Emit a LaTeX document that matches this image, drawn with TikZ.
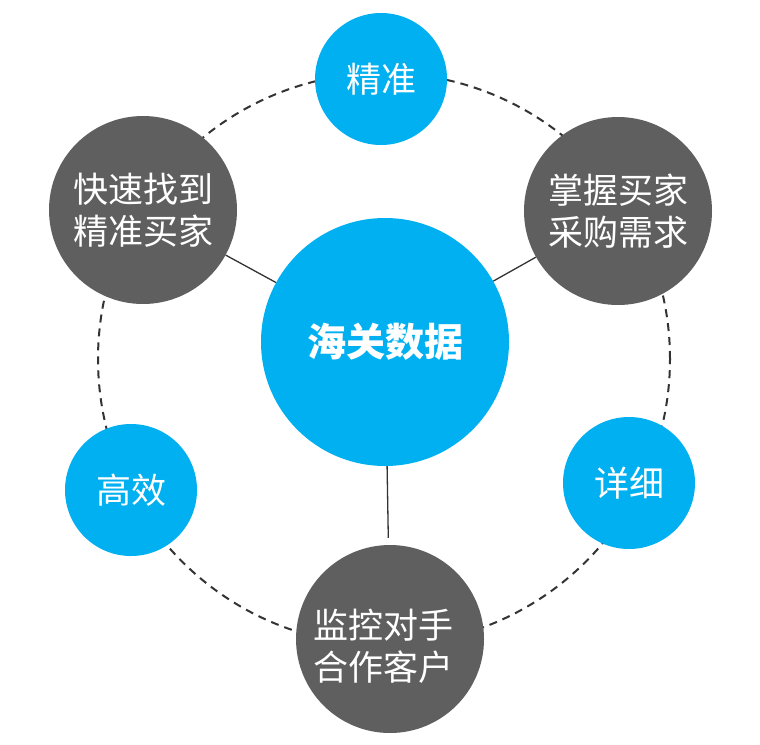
\documentclass[tikz,border=0pt]{standalone}
\usepackage{fontspec}
\newfontfamily\cjk{Noto Sans CJK SC}
\definecolor{cblue}{HTML}{00B0F0}
\definecolor{cdark}{HTML}{5F5F5F}
\definecolor{cline}{HTML}{333333}
\begin{document}
\begin{tikzpicture}[x=1pt,y=-1pt,
  bluecirc/.style={circle,fill=cblue,draw=none,inner sep=0pt,minimum size=132pt,
    text=white,font=\cjk\fontsize{35}{42}\selectfont,align=center},
  darkcirc/.style={circle,fill=cdark,draw=none,inner sep=0pt,minimum size=188pt,
    text=white,font=\cjk\fontsize{35}{42}\selectfont,align=center},
  maincirc/.style={circle,fill=cblue,draw=none,inner sep=0pt,minimum size=248pt,
    text=white,font=\cjk\bfseries\fontsize{39}{46}\selectfont},
  ringline/.style={draw=cline,line width=2pt,dash pattern=on 8pt off 6pt},
  linkline/.style={draw=cline,line width=1.3pt}]
\useasboundingbox (0,0) rectangle (760,744);
\fill[white] (0,0) rectangle (760,744);
\coordinate (ringc) at (384,359);
\draw[ringline] (ringc) circle[radius=286pt];
\node[maincirc] (main) at (385,342) {海关数据};
\node[bluecirc] (top) at (381,79) {精准};
\node[darkcirc] (tl) at (143,210) {快速找到\\精准买家};
\node[darkcirc] (tr) at (618,211) {掌握买家\\采购需求};
\node[bluecirc] (right) at (629,483) {详细};
\node[bluecirc] (left) at (131,490) {高效};
\node[darkcirc] (bot) at (390,639) {};
\node[text=white,font=\cjk\fontsize{35}{42}\selectfont,align=center,inner sep=0pt] (bottext) at (383,646) {监控对手\\合作客户};
\draw[linkline] (tl) -- (main);
\draw[linkline] (tr) -- (main);
\draw[linkline,shorten >=7pt] (main) -- (bot);
\end{tikzpicture}
\end{document}
